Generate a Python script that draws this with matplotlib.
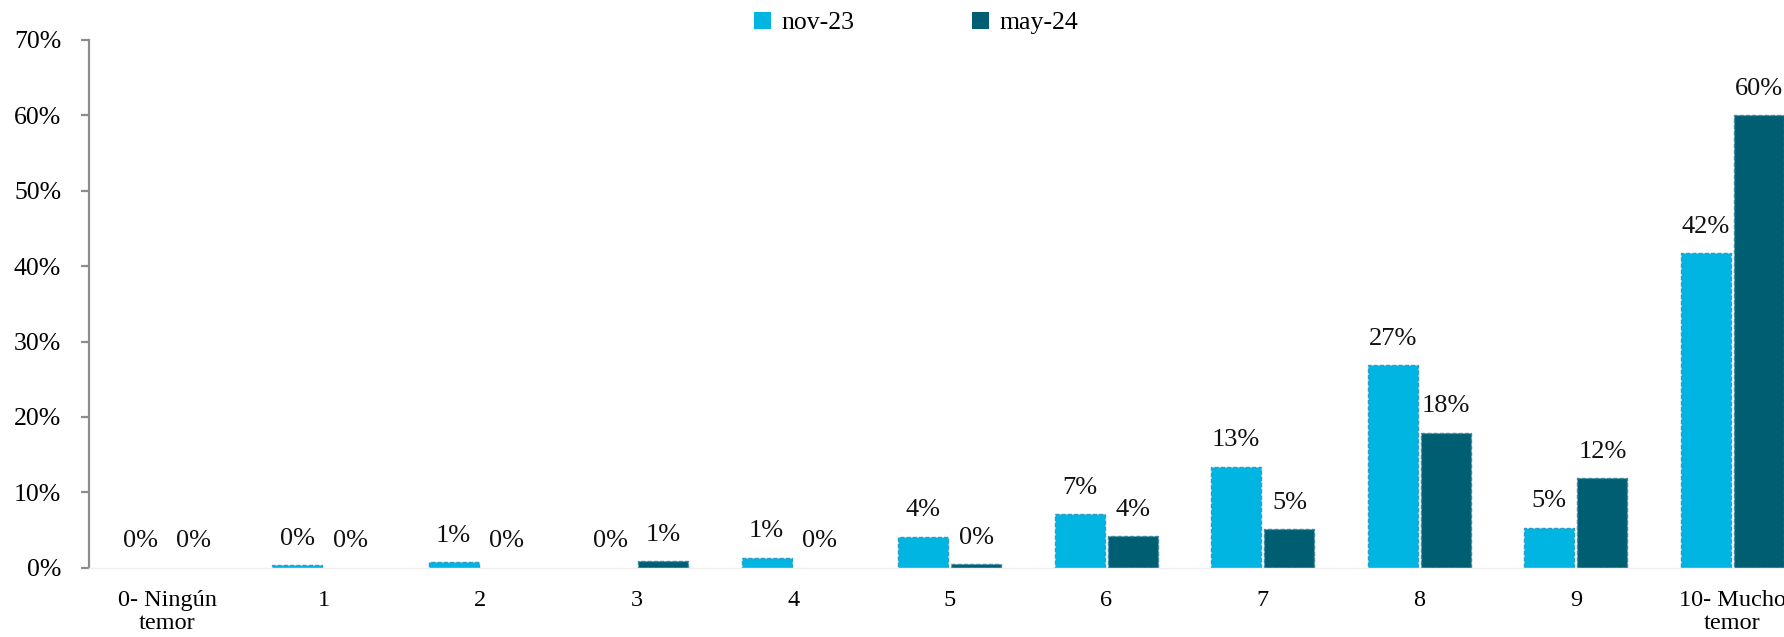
import numpy as np
import matplotlib
matplotlib.use("Agg")
import matplotlib.pyplot as plt

# escala de temor 0-10, dos rondas de la encuesta
categories = ["0- Ningún\ntemor", "1", "2", "3", "4", "5", "6", "7", "8", "9",
              "10- Mucho\ntemor"]
nov_23 = [0.0, 0.3, 0.75, 0.0, 1.35, 4.1, 7.1, 13.4, 26.9, 5.3, 41.7]
may_24 = [0.0, 0.0, 0.0, 0.9, 0.0, 0.45, 4.2, 5.1, 17.9, 11.9, 60.0]
series_names = ["nov-23", "may-24"]

col_nov = "#00B5E2"
col_may = "#005E73"

plt.rcParams["font.family"] = ["Liberation Serif", "DejaVu Serif"]
plt.rcParams["font.size"] = 18.5

W, H = 1784, 637
fig = plt.figure(figsize=(W / 100, H / 100), dpi=100)
ax = fig.add_axes([89 / W, 1 - 567.7 / H, 1 - 89 / W, (567.7 - 40) / H])

x = np.arange(len(categories))
w = 0.32
off = 0.17

b1 = ax.bar(x - off, nov_23, w, color=col_nov, edgecolor="#2F9CC4",
            linewidth=1.0, linestyle=(0, (3, 1.5)), label=series_names[0])
b2 = ax.bar(x + off, may_24, w, color=col_may, edgecolor="#3C8AA0",
            linewidth=1.0, linestyle=(0, (3, 1.5)), label=series_names[1])

for bars, vals in ((b1, nov_23), (b2, may_24)):
    for rect, v in zip(bars, vals):
        if v == 0:
            rect.set_edgecolor("none")
        ax.annotate(f"{v:.0f}%", (rect.get_x() + rect.get_width() / 2, v),
                    xytext=(0, 19), textcoords="offset points",
                    ha="center", va="center", color="#111111", fontsize=19)

ax.set_xlim(-0.5, 10.33)
ax.set_ylim(0, 70)
ax.set_yticks(np.arange(0, 71, 10))
ax.set_yticklabels([f"{t}%" for t in range(0, 71, 10)])
ax.set_xticks(x)
ax.set_xticklabels(categories, linespacing=1.1, fontsize=17.5)

for s in ("top", "right"):
    ax.spines[s].set_visible(False)
ax.spines["left"].set_color("#8C8C8C")
ax.spines["left"].set_linewidth(1.6)
ax.spines["bottom"].set_color("#F0F0F0")
ax.spines["bottom"].set_linewidth(1.0)
ax.tick_params(axis="y", length=6, width=1.6, color="#8C8C8C", pad=14)
ax.tick_params(axis="x", length=0, pad=16)

fig.legend(loc="center", bbox_to_anchor=(0.5135, 1 - 23 / H), ncol=2,
           frameon=False, handlelength=0.65, handleheight=0.65,
           handletextpad=0.4, columnspacing=4.6, borderaxespad=0)

fig.savefig("out.png", dpi=100)
